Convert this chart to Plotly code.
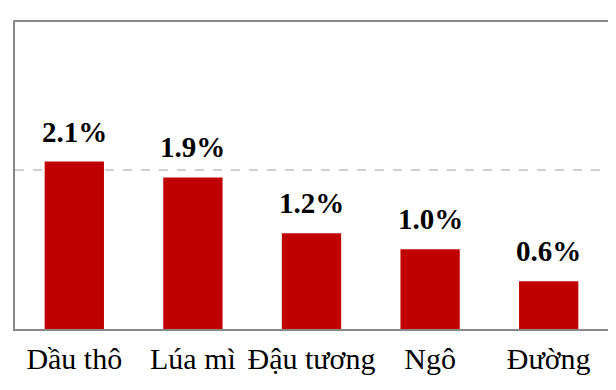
import plotly.graph_objects as go

categories = ["Dầu thô", "Lúa mì", "Đậu tương", "Ngô", "Đường"]
values = [2.1, 1.9, 1.2, 1.0, 0.6]
value_labels = [f"{v:.1f}%" for v in values]

fig = go.Figure()
fig.add_trace(go.Bar(
    x=categories, y=values,
    marker=dict(color="#C00000", line=dict(width=0)),
    hoverinfo="skip",
))

for c, v, t in zip(categories, values, value_labels):
    fig.add_annotation(
        x=c, y=v, text=f"<b>{t}</b>", showarrow=False,
        yanchor="bottom", yshift=12,
        font=dict(family="Liberation Serif", size=29, color="#000000"),
    )

# page body has an 8px margin; figure sized so the plot frame lands where the reference's does
fig.update_layout(
    width=608, height=382,
    margin=dict(l=7, r=8, t=14, b=61),
    paper_bgcolor="white", plot_bgcolor="white",
    bargap=0.5, showlegend=False,
    font=dict(family="Liberation Serif", size=30, color="#000000"),
)
fig.update_xaxes(
    showline=True, mirror=True, linecolor="#888888", linewidth=2,
    ticks="", showgrid=False, automargin=False, ticklabelstandoff=2,
    tickfont=dict(family="Liberation Serif", size=30, color="#000000"),
)
fig.update_yaxes(
    range=[0, 3.85], dtick=2, showticklabels=False, ticks="",
    showline=True, mirror=True, linecolor="#888888", linewidth=2,
    showgrid=True, gridcolor="#d0d0d0", gridwidth=2, griddash="dash",
    zeroline=False, automargin=False,
)

fig.write_html("out.html")
